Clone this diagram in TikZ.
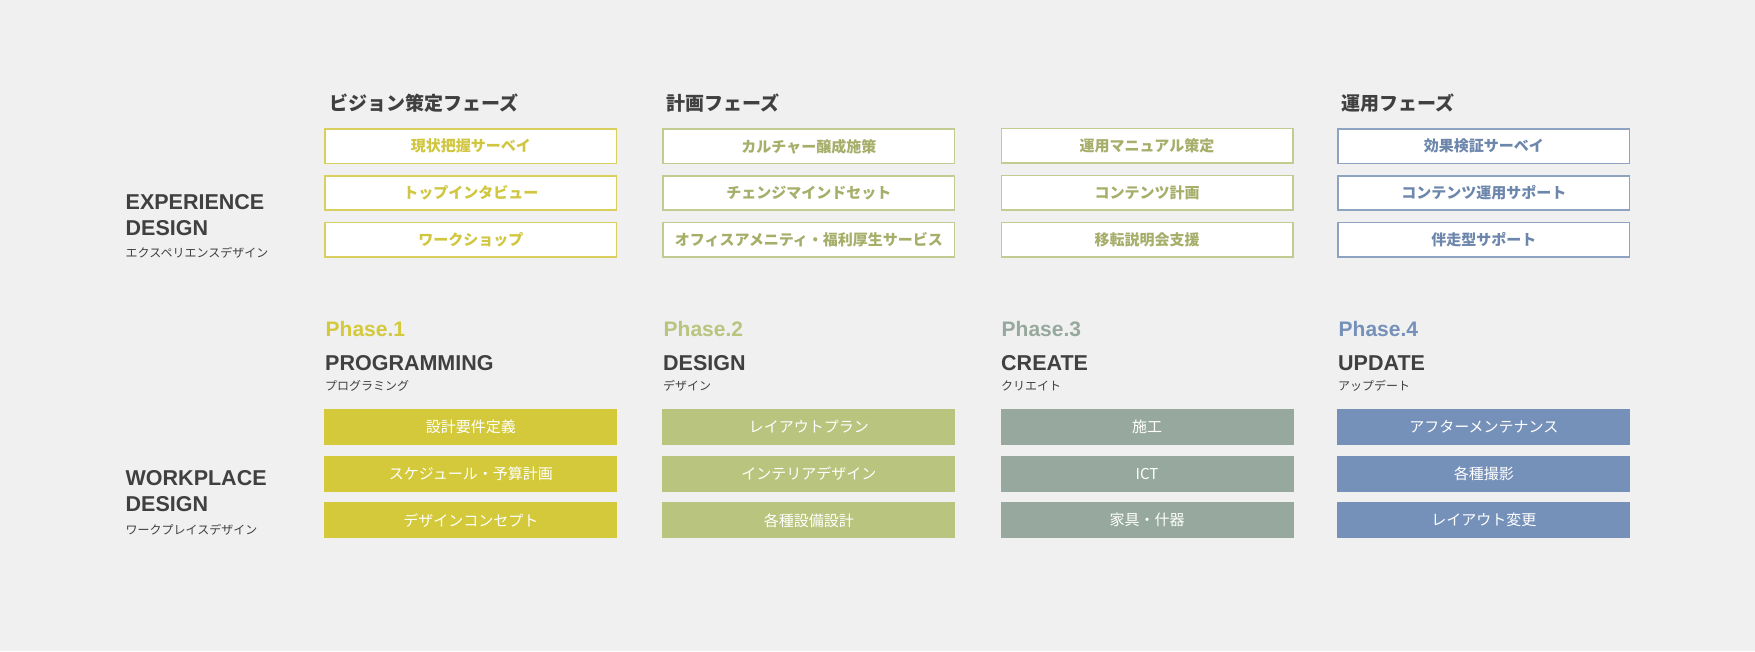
\documentclass[tikz,border=0pt]{standalone}
\usepackage{fontspec}
\setmainfont{Liberation Sans}
\newfontfamily\jp{Noto Sans CJK JP}
\definecolor{bgc}{HTML}{F0F0F0}
\definecolor{darkc}{HTML}{404040}
\definecolor{cA}{HTML}{D3C93B}
\definecolor{cAline}{HTML}{D8CF5E}
\definecolor{cAtext}{HTML}{D0C640}
\definecolor{cB}{HTML}{B9C47E}
\definecolor{cBline}{HTML}{C3CB93}
\definecolor{cBtext}{HTML}{A6AE6A}
\definecolor{cC}{HTML}{97A99E}
\definecolor{cD}{HTML}{7591B9}
\definecolor{cDline}{HTML}{8EA2C1}
\definecolor{cDtext}{HTML}{6C86AC}
\begin{document}
\begin{tikzpicture}[x=1pt,y=-1pt,
  obox/.style={draw, line width=1.6pt, fill=white, minimum width=291.4pt, minimum height=34.4pt, inner sep=0pt, font=\jp\bfseries\fontsize{15}{18}\selectfont},
  filledbox/.style={minimum width=293pt, minimum height=36pt, inner sep=0pt, text=white, font=\jp\fontsize{15}{18}\selectfont},
  phasehead/.style={anchor=west, inner sep=0pt, font=\jp\bfseries\fontsize{19}{22}\selectfont, text=darkc},
  biglabel/.style={anchor=base west, inner sep=0pt, font=\bfseries\fontsize{21.5}{26}\selectfont, text=darkc},
  phaselabel/.style={anchor=base west, inner sep=0pt, font=\bfseries\fontsize{21}{26}\selectfont},
  sublabel/.style={anchor=west, inner sep=0pt, font=\jp\fontsize{12}{14}\selectfont, text=darkc}
]
\fill[bgc] (0,0) rectangle (1755,651);
\useasboundingbox (0,0) rectangle (1755,651);

% left labels
\node[biglabel] (exp1) at (125.5,209.3) {EXPERIENCE};
\node[biglabel] (exp2) at (125.5,235.3) {DESIGN};
\node[sublabel] (exp3) at (125.5,252.7) {エクスペリエンスデザイン};
\node[biglabel] (wp1) at (125.5,485.3) {WORKPLACE};
\node[biglabel] (wp2) at (125.5,511.3) {DESIGN};
\node[sublabel] (wp3) at (125.5,529.3) {ワークプレイスデザイン};

% top headers
\node[phasehead] (h1) at (329.5,103) {ビジョン策定フェーズ};
\node[phasehead] (h2) at (666.5,103) {計画フェーズ};
\node[phasehead] (h4) at (1341.5,103) {運用フェーズ};

% column 1 top boxes
\node[obox, draw=cAline, text=cAtext] (a1) at (470.8,146.3) {現状把握サーベイ};
\node[obox, draw=cAline, text=cAtext] (a2) at (470.8,193) {トップインタビュー};
\node[obox, draw=cAline, text=cAtext] (a3) at (470.8,239.8) {ワークショップ};
% column 2
\node[obox, draw=cBline, text=cBtext] (b1) at (808.9,146.3) {カルチャー醸成施策};
\node[obox, draw=cBline, text=cBtext] (b2) at (808.9,193) {チェンジマインドセット};
\node[obox, draw=cBline, text=cBtext] (b3) at (808.9,239.8) {オフィスアメニティ・福利厚生サービス};
% column 3
\node[obox, draw=cBline, text=cBtext] (c1) at (1147,145.5) {運用マニュアル策定};
\node[obox, draw=cBline, text=cBtext] (c2) at (1147,192.5) {コンテンツ計画};
\node[obox, draw=cBline, text=cBtext] (c3) at (1147,239.5) {移転説明会支援};
% column 4
\node[obox, draw=cDline, text=cDtext] (d1) at (1483.8,146.3) {効果検証サーベイ};
\node[obox, draw=cDline, text=cDtext] (d2) at (1483.8,193) {コンテンツ運用サポート};
\node[obox, draw=cDline, text=cDtext] (d3) at (1483.8,239.8) {伴走型サポート};

% phase labels
\node[phaselabel, text=cA] (p1) at (325.5,336.7) {Phase.1};
\node[phaselabel, text=cB] (p2) at (663.5,336.7) {Phase.2};
\node[phaselabel, text=cC] (p3) at (1001.5,336.7) {Phase.3};
\node[phaselabel, text=cD] (p4) at (1338.5,336.7) {Phase.4};
\node[biglabel] (t1) at (325,370.7) {PROGRAMMING};
\node[biglabel] (t2) at (663,370.7) {DESIGN};
\node[biglabel] (t3) at (1001,370.7) {CREATE};
\node[biglabel] (t4) at (1338,370.7) {UPDATE};
\node[sublabel] (s1) at (325,386) {プログラミング};
\node[sublabel] (s2) at (663,386) {デザイン};
\node[sublabel] (s3) at (1001,386) {クリエイト};
\node[sublabel] (s4) at (1338,386) {アップデート};

% filled boxes
\node[filledbox, fill=cA] (e1) at (470.8,427) {設計要件定義};
\node[filledbox, fill=cA] (e2) at (470.8,473.7) {スケジュール・予算計画};
\node[filledbox, fill=cA] (e3) at (470.8,520.3) {デザインコンセプト};
\node[filledbox, fill=cB] (f1) at (808.9,427) {レイアウトプラン};
\node[filledbox, fill=cB] (f2) at (808.9,473.7) {インテリアデザイン};
\node[filledbox, fill=cB] (f3) at (808.9,520.3) {各種設備設計};
\node[filledbox, fill=cC] (g1) at (1147,427) {施工};
\node[filledbox, fill=cC] (g2) at (1147,473.7) {ICT};
\node[filledbox, fill=cC] (g3) at (1147,520.3) {家具・什器};
\node[filledbox, fill=cD] (k1) at (1483.8,427) {アフターメンテナンス};
\node[filledbox, fill=cD] (k2) at (1483.8,473.7) {各種撮影};
\node[filledbox, fill=cD] (k3) at (1483.8,520.3) {レイアウト変更};
\end{tikzpicture}
\end{document}
